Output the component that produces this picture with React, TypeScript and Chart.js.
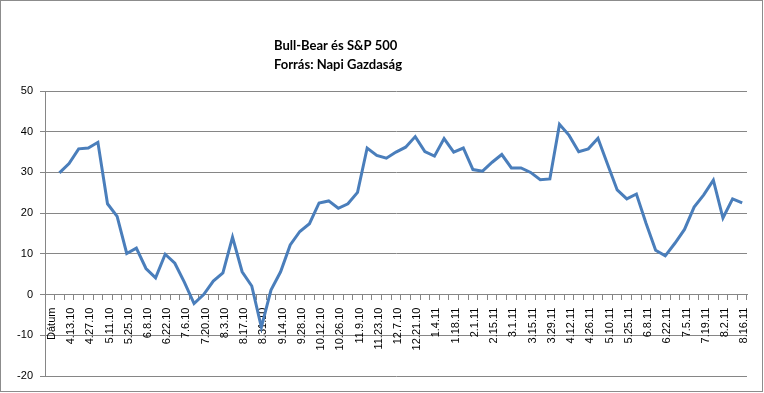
import { useEffect, useRef } from 'react';
import { Chart, registerables } from 'chart.js';

Chart.register(...registerables);

const categories: string[] = [
  'Dátum', '4.6.10', '4.13.10', '4.20.10', '4.27.10', '5.4.10', '5.11.10', '5.18.10', '5.25.10', '6.1.10',
  '6.8.10', '6.15.10', '6.22.10', '6.29.10', '7.6.10', '7.13.10', '7.20.10', '7.27.10', '8.3.10', '8.10.10',
  '8.17.10', '8.24.10', '8.31.10', '9.7.10', '9.14.10', '9.21.10', '9.28.10', '10.5.10', '10.12.10', '10.19.10',
  '10.26.10', '11.2.10', '11.9.10', '11.16.10', '11.23.10', '11.30.10', '12.7.10', '12.14.10', '12.21.10', '12.28.10',
  '1.4.11', '1.11.11', '1.18.11', '1.25.11', '2.1.11', '2.8.11', '2.15.11', '2.22.11', '3.1.11', '3.8.11',
  '3.15.11', '3.22.11', '3.29.11', '4.5.11', '4.12.11', '4.19.11', '4.26.11', '5.3.11', '5.10.11', '5.17.11',
  '5.25.11', '6.1.11', '6.8.11', '6.15.11', '6.22.11', '6.28.11', '7.5.11', '7.12.11', '7.19.11', '7.26.11',
  '8.2.11', '8.9.11', '8.16.11',
];

const bullBear: (number | null)[] = [
  null, 29.9, 32.2, 35.8, 36.0, 37.4, 22.3, 19.2, 10.1, 11.4,
  6.4, 4.1, 9.9, 7.7, 3.0, -2.2, 0.0, 3.3, 5.3, 14.1,
  5.6, 2.1, -8.0, 1.1, 5.6, 12.2, 15.5, 17.4, 22.5, 23.0,
  21.2, 22.3, 25.1, 36.0, 34.2, 33.5, 35.0, 36.2, 38.8, 35.1,
  34.0, 38.3, 35.0, 36.0, 30.7, 30.3, 32.5, 34.4, 31.1, 31.1,
  30.0, 28.2, 28.4, 41.8, 39.1, 35.1, 35.8, 38.4, 32.0, 25.7,
  23.5, 24.7, 17.5, 10.9, 9.5, 12.6, 16.0, 21.5, 24.5, 28.1,
  18.8, 23.5, 22.5,
];

const titleLines: string[] = ['Bull-Bear és S&P 500', 'Forrás: Napi Gazdaság'];

const yMin = -20;
const yMax = 50;
const yStep = 10;

export default function App() {
  const ref = useRef<HTMLCanvasElement>(null);

  useEffect(() => {
    document.body.style.margin = '0';
    const canvas = ref.current;
    if (!canvas) return;

    const framePlugin = {
      id: 'frame',
      beforeDraw(chart: any) {
        const ctx = chart.ctx;
        ctx.save();
        ctx.fillStyle = '#ffffff';
        ctx.fillRect(0, 0, chart.width, chart.height);
        ctx.strokeStyle = '#8c8c8c';
        ctx.lineWidth = 1;
        ctx.strokeRect(0.5, 0.5, chart.width - 2, chart.height - 2);
        ctx.restore();
      },
    };

    const titlePlugin = {
      id: 'excelTitle',
      afterDraw(chart: any) {
        const ctx = chart.ctx;
        ctx.save();
        ctx.font = 'bold 13px Lato';
        ctx.fillStyle = '#000000';
        ctx.textAlign = 'left';
        ctx.textBaseline = 'middle';
        ctx.fillText(titleLines[0], 274, 46);
        ctx.fillText(titleLines[1], 274, 65);
        ctx.restore();
      },
    };

    const chart = new Chart(canvas, {
      type: 'line',
      data: {
        labels: categories,
        datasets: [
          {
            label: 'Bull-Bear',
            data: bullBear,
            borderColor: '#4A7EBB',
            backgroundColor: '#4A7EBB',
            borderWidth: 3,
            pointRadius: 0,
            tension: 0,
            fill: false,
          },
        ],
      },
      options: {
        animation: false,
        responsive: false,
        maintainAspectRatio: false,
        layout: { padding: { left: 0, right: 17, top: 91, bottom: 17 } },
        plugins: {
          legend: { display: false },
          title: { display: false },
          tooltip: { enabled: false },
        },
        scales: {
          x: {
            type: 'category',
            position: { y: 0 } as any,
            offset: true,
            afterFit: (scale: any) => {
              scale.height = 0;
            },
            grid: {
              offset: true,
              drawOnChartArea: false,
              drawTicks: true,
              tickLength: 5,
              color: '#868686',
            },
            border: { display: true, color: '#868686', width: 1 },
            ticks: {
              autoSkip: false,
              maxRotation: 90,
              minRotation: 90,
              padding: 8,
              labelOffset: 2,
              color: '#000000',
              font: { family: 'Liberation Sans', size: 11 },
              callback: (_v: any, i: number) => (i % 2 === 0 ? categories[i] : ''),
            },
          },
          y: {
            min: yMin,
            max: yMax,
            afterFit: (scale: any) => {
              scale.width = 45;
            },
            grid: {
              color: '#868686',
              drawTicks: true,
              tickLength: 5,
            },
            border: { display: true, color: '#868686', width: 1 },
            ticks: {
              stepSize: yStep,
              padding: 7,
              color: '#000000',
              font: { family: 'Liberation Sans', size: 11 },
            },
          },
        },
      },
      plugins: [framePlugin, titlePlugin],
    });

    return () => {
      chart.destroy();
    };
  }, []);

  return (
    <div style={{ position: 'absolute', left: 0, top: 0, width: 764, height: 393 }}>
      <canvas ref={ref} width={764} height={393} style={{ display: 'block' }} />
    </div>
  );
}
